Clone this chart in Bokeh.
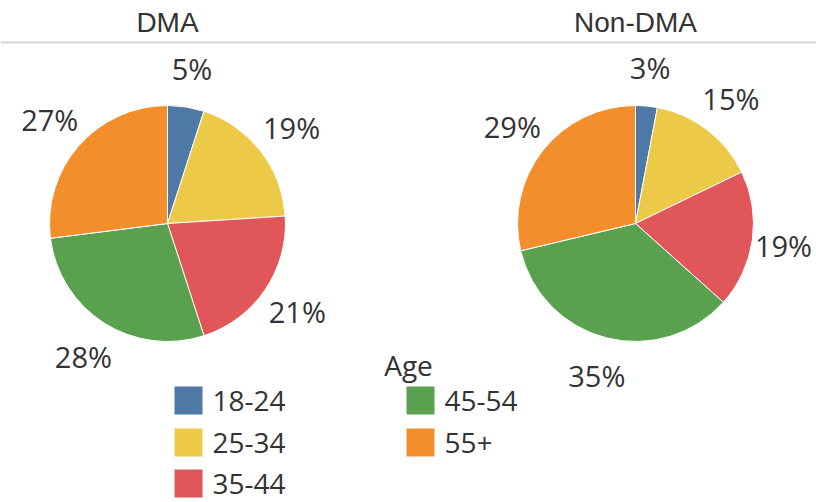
import numpy as np
from bokeh.plotting import figure
from bokeh.models import Range1d, Span
from bokeh.core.properties import value
from bokeh.embed import file_html
from bokeh.resources import INLINE

# ---- data ----
ages = ["18-24", "25-34", "35-44", "45-54", "55+"]
colors = ["#4e79a7", "#edc948", "#e15759", "#59a14f", "#f28e2b"]
groups = ["DMA", "Non-DMA"]
dma = [5, 19, 21, 28, 27]
non_dma = [3, 15, 19, 35, 29]
series = [dma, non_dma]
legend_title = "Age"

# ---- layout (pixels in window coordinates) ----
W, H = 816, 502
def X(x):
    return x
def Y(y):
    return H - y

centers = [(167, 223), (635, 223)]
R = 118
LABEL_R = 157
LABEL_HALF_W = 31
TEXT = "#333333"

p = figure(width=W, height=H, x_range=Range1d(0, W), y_range=Range1d(0, H),
           output_backend="svg", toolbar_location=None, min_border=0)
p.axis.visible = False
p.grid.visible = False
p.outline_line_color = None
p.background_fill_color = "white"
p.border_fill_color = "white"

# header separator line
p.add_layout(Span(location=Y(42), dimension="width", line_color="#d6d6d6", line_width=2))

for (cx, cy), name, vals in zip(centers, groups, series):
    v = np.array(vals, dtype=float)
    frac = v / v.sum()
    cum = np.concatenate([[0], np.cumsum(frac)])
    start = np.pi / 2 - cum[:-1] * 2 * np.pi
    end = np.pi / 2 - cum[1:] * 2 * np.pi
    p.wedge(x=X(cx), y=Y(cy), radius=R, start_angle=start, end_angle=end,
            direction="clock", fill_color=colors, line_color="white", line_width=1)
    mid = (cum[:-1] + cum[1:]) / 2 * 2 * np.pi
    lx = X(cx) + LABEL_R * np.sin(mid)
    ly = Y(cy) + LABEL_R * np.cos(mid)
    # keep labels inside the canvas
    lx = np.clip(lx, LABEL_HALF_W + 2, W - LABEL_HALF_W - 2)
    p.text(x=lx, y=ly, text=[f"{int(a)}%" for a in vals], text_align="center",
           text_baseline="middle", text_font=value("Open Sans"), text_font_size="29px",
           text_color=TEXT)
    p.text(x=[X(cx)], y=[Y(22)], text=[name], text_align="center", text_baseline="middle",
           text_font=value("Liberation Sans"), text_font_size="28px", text_color=TEXT)

# legend
p.text(x=[X(408)], y=[Y(364)], text=[legend_title], text_align="center", text_baseline="middle",
       text_font=value("Open Sans"), text_font_size="28px", text_color=TEXT)
col_x = [188, 420]
row_y = [400, 442, 483]
sx, sy, tx = [], [], []
for i, a in enumerate(ages):
    c, r = i // 3, i % 3
    sx.append(X(col_x[c])); sy.append(Y(row_y[r])); tx.append(X(col_x[c] + 24))
p.rect(x=sx, y=sy, width=28, height=28, fill_color=colors, line_color=None)
p.text(x=tx, y=sy, text=ages, text_align="left", text_baseline="middle",
       text_font=value("Open Sans"), text_font_size="28px", text_color=TEXT)

open("out.html", "w").write(file_html(p, INLINE))
